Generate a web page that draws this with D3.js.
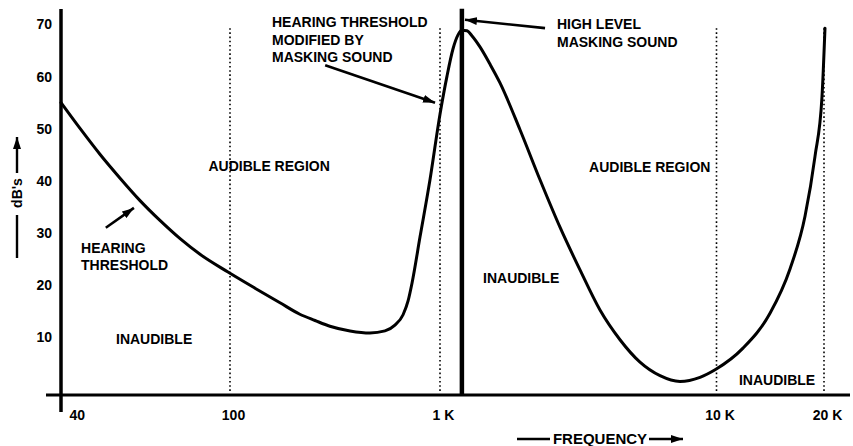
<!DOCTYPE html>
<html>
<head>
<meta charset="utf-8">
<script src="https://cdn.jsdelivr.net/npm/d3@7"></script>
<style>
  html, body { margin: 0; padding: 0; background: #fff; }
  svg { display: block; font-family: "Liberation Sans", Arial, Helvetica, sans-serif; font-weight: bold; }
</style>
</head>
<body>
<svg id="chart" width="853" height="446"></svg>
<script>
// Hearing threshold with a loud masking tone: frequency (Hz) and level (dB)
const thresholdFreq = [40, 44.3, 49.4, 55.1, 61.4, 68.4, 76.3, 85.0, 98.9,
  131.5, 173, 215, 254, 299, 373, 464, 547, 610, 667, 704, 736, 803, 896,
  1000, 1060, 1114, 1162, 1200, 1252, 1306, 1395, 1516, 1648, 1947, 2300, 2716, 3209,
  3790, 4477, 5288, 6247, 7379, 8716, 9917,
  11864, 14120, 16063, 17694, 18873, 19742, 20129];
const thresholdDb = [55, 50.1, 45.1, 40.5, 36.2, 32.4, 28.9, 25.9, 22.5,
  19.4, 16.6, 14.4, 13.2, 12.1, 11.2, 10.8, 11.2, 12.3, 14.3, 16.9, 20.4, 29.2, 40.2,
  52.8, 60.1, 65.3, 68.0, 68.9, 68.8, 67.8, 65.7, 62.4, 58.8, 49.8, 40.2, 31.1, 22.9,
  15.2, 9.5, 5.2, 2.6, 1.5, 2.3, 3.8,
  7.9, 14.6, 23.1, 33.2, 44.7, 56.1, 69.3];

// The masking tone
const maskerFreq = 1200;
const maskerDb = 73;

// Region boundaries (dotted guides) and axis ticks
const regionFreqs = [100, 1000, 10000, 20000];
const freqTicks = [40, 100, 1000, 10000, 20000];
const freqTickLabels = ["40", "100", "1 K", "10 K", "20 K"];
const dbTicks = [10, 20, 30, 40, 50, 60, 70];

// Text labels anchored in frequency / level units
const labelFreq = [89, 3460, 53.9, 1431, 11560, 44.6, 158.5, 2649];
const labelDb = [41.9, 41.7, 8.7, 20.4, 0.8, 26.2, 69.5, 69.1];
const labelText = [
  ["AUDIBLE REGION"],
  ["AUDIBLE REGION"],
  ["INAUDIBLE"],
  ["INAUDIBLE"],
  ["INAUDIBLE"],
  ["HEARING", "THRESHOLD"],
  ["HEARING THRESHOLD", "MODIFIED BY", "MASKING SOUND"],
  ["HIGH LEVEL", "MASKING SOUND"]
];

// Pointer arrows: tail -> tip, in frequency / level units
const arrowTailFreq = [51, 284, 2398];
const arrowTailDb = [31.0, 62.2, 69.3];
const arrowTipFreq = [59.4, 947, 1231];
const arrowTipDb = [34.8, 55.0, 70.9];

const svg = d3.select("#chart");

// Frequency axis is drawn as a piecewise logarithmic scale
const x = d3.scaleLog()
  .domain([40, 100, 1000, 10000, 20000])
  .range([61, 230, 440, 716.5, 824]);
const y = d3.scaleLinear().domain([-1.1, 70]).range([395, 24.5]);

const defs = svg.append("defs");
defs.append("marker")
  .attr("id", "head")
  .attr("markerUnits", "userSpaceOnUse")
  .attr("viewBox", "0 0 12 8")
  .attr("refX", 12).attr("refY", 4)
  .attr("markerWidth", 12).attr("markerHeight", 8)
  .attr("orient", "auto")
  .append("path").attr("d", "M0,0 L12,4 L0,8 Z").attr("fill", "#000");

// Dotted region guides
svg.append("g").selectAll("line")
  .data(regionFreqs)
  .join("line")
  .attr("x1", d => x(d)).attr("x2", d => x(d))
  .attr("y1", y(69.3)).attr("y2", y(-0.6))
  .attr("stroke", "#000")
  .attr("stroke-width", 1.6)
  .attr("stroke-dasharray", "1.6,2.6");

// Y axis tick labels
const yAxis = svg.append("g")
  .attr("transform", `translate(${x(40)},0)`)
  .call(d3.axisLeft(y).tickValues(dbTicks).tickSize(0).tickPadding(9));
yAxis.select(".domain").remove();
yAxis.selectAll("text")
  .attr("font-family", "Liberation Sans, Arial, sans-serif")
  .attr("font-weight", "bold")
  .attr("font-size", 14)
  .attr("fill", "#000");

// X axis tick labels
const xAxis = svg.append("g")
  .attr("transform", `translate(0,${y(-1.1)})`)
  .call(d3.axisBottom(x).tickValues(freqTicks)
    .tickFormat((d, i) => freqTickLabels[i]).tickSize(0).tickPadding(15));
xAxis.select(".domain").remove();
xAxis.selectAll("text")
  .attr("font-family", "Liberation Sans, Arial, sans-serif")
  .attr("font-weight", "bold")
  .attr("font-size", 14)
  .attr("fill", "#000")
  .attr("dx", 3)
  .attr("text-anchor", (d, i) => i === 0 ? "start" : "middle")
  .attr("x", (d, i) => i === 0 ? 5 : 0);

// Heavy axis lines
svg.append("line")
  .attr("x1", x(40)).attr("x2", x(40))
  .attr("y1", 9).attr("y2", 412)
  .attr("stroke", "#000").attr("stroke-width", 3.5);
svg.append("line")
  .attr("x1", 46).attr("x2", 850)
  .attr("y1", y(-1.1)).attr("y2", y(-1.1))
  .attr("stroke", "#000").attr("stroke-width", 3);

// Masking tone
svg.append("line")
  .attr("x1", x(maskerFreq)).attr("x2", x(maskerFreq))
  .attr("y1", y(maskerDb)).attr("y2", y(-1.1))
  .attr("stroke", "#000").attr("stroke-width", 4.5);

// Threshold curve
const pts = thresholdFreq.map((f, i) => [f, thresholdDb[i]]);
svg.append("path")
  .datum(pts)
  .attr("fill", "none")
  .attr("stroke", "#000")
  .attr("stroke-width", 3)
  .attr("stroke-linejoin", "round")
  .attr("stroke-linecap", "round")
  .attr("d", d3.line().x(d => x(d[0])).y(d => y(d[1])).curve(d3.curveMonotoneX));

// Pointer arrows
svg.append("g").selectAll("line")
  .data(arrowTailFreq)
  .join("line")
  .attr("x1", (d, i) => x(arrowTailFreq[i]))
  .attr("y1", (d, i) => y(arrowTailDb[i]))
  .attr("x2", (d, i) => x(arrowTipFreq[i]))
  .attr("y2", (d, i) => y(arrowTipDb[i]))
  .attr("stroke", "#000")
  .attr("stroke-width", 2.6)
  .attr("marker-end", "url(#head)");

// Region and annotation labels
const labels = svg.append("g")
  .attr("font-size", 14)
  .attr("fill", "#000")
  .selectAll("text")
  .data(labelText)
  .join("text")
  .attr("x", (d, i) => x(labelFreq[i]))
  .attr("y", (d, i) => y(labelDb[i]));
labels.selectAll("tspan")
  .data(d => d)
  .join("tspan")
  .attr("x", function () { return this.parentNode.getAttribute("x"); })
  .attr("dy", (d, j) => j === 0 ? 0 : 17.5)
  .text(d => d);

// Y axis title with arrow
const yt = svg.append("g").attr("transform", "translate(17,0)");
yt.append("line").attr("x1", 0).attr("x2", 0).attr("y1", 258).attr("y2", 215)
  .attr("stroke", "#000").attr("stroke-width", 2.4);
yt.append("line").attr("x1", 0).attr("x2", 0).attr("y1", 173).attr("y2", 137)
  .attr("stroke", "#000").attr("stroke-width", 2.4).attr("marker-end", "url(#head)");
yt.append("text")
  .attr("transform", "translate(5,193) rotate(-90)")
  .attr("text-anchor", "middle")
  .attr("font-size", 14)
  .text("dB's");

// X axis title with arrow
const xt = svg.append("g").attr("transform", "translate(0,439)");
xt.append("line").attr("x1", 517).attr("x2", 550).attr("y1", 0).attr("y2", 0)
  .attr("stroke", "#000").attr("stroke-width", 2.4);
xt.append("text").attr("x", 600).attr("y", 4.5)
  .attr("text-anchor", "middle").attr("font-size", 15).text("FREQUENCY");
xt.append("line").attr("x1", 649).attr("x2", 683).attr("y1", 0).attr("y2", 0)
  .attr("stroke", "#000").attr("stroke-width", 2.4).attr("marker-end", "url(#head)");
</script>
</body>
</html>
